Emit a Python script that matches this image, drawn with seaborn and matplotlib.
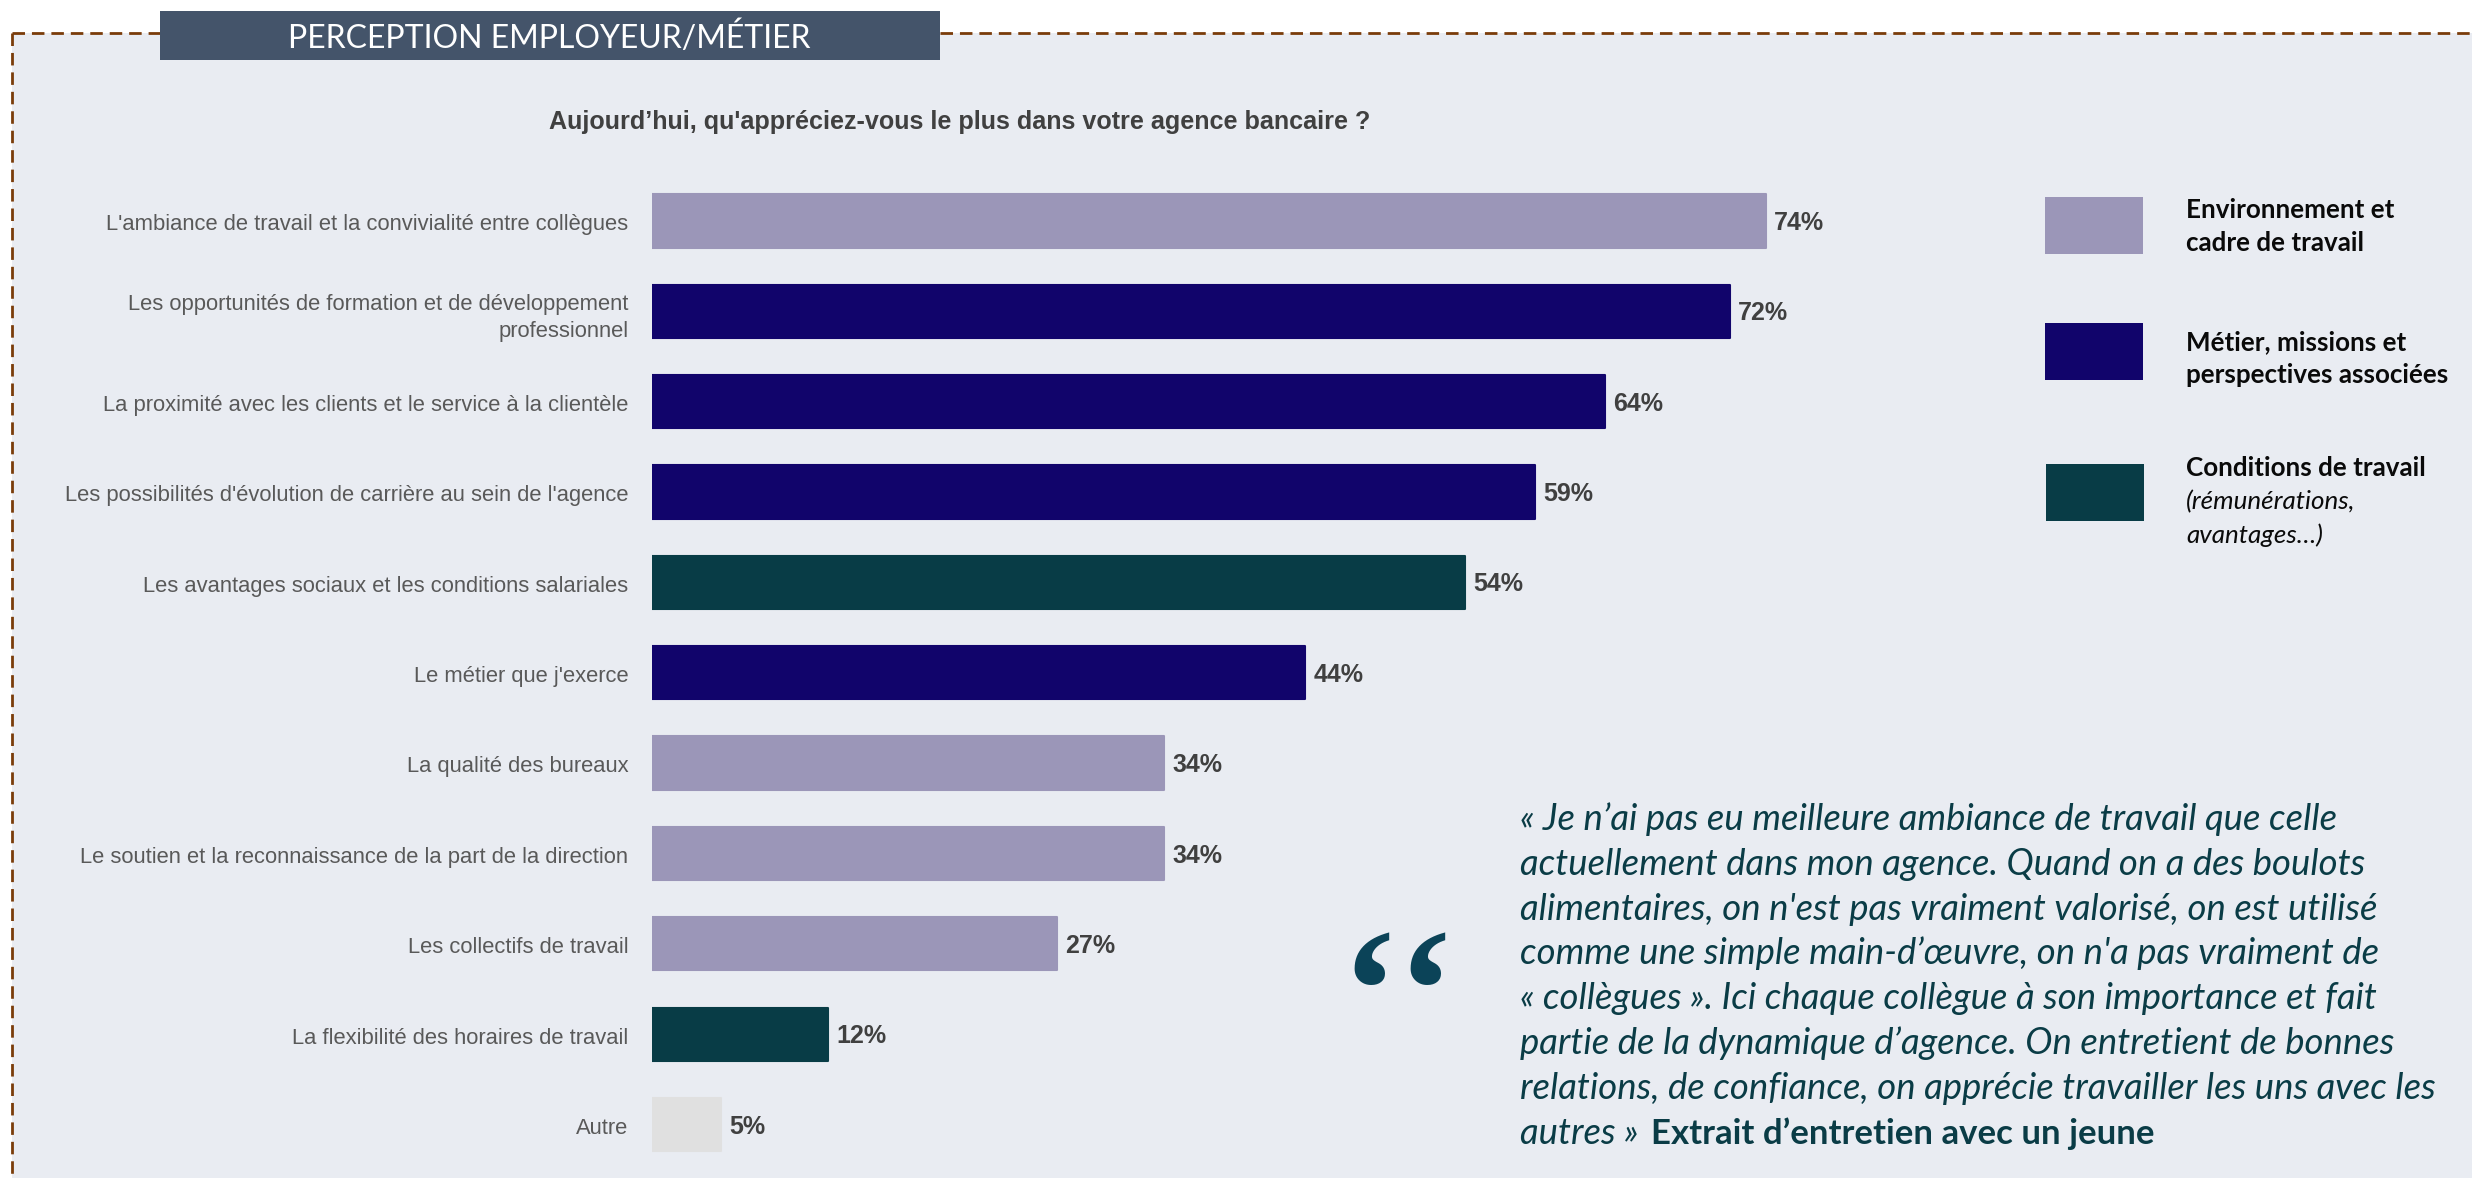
import pandas as pd
import seaborn as sns
import matplotlib.pyplot as plt
from matplotlib.patches import Rectangle
from matplotlib.lines import Line2D
from matplotlib.transforms import ScaledTranslation

W, H = 2472, 1178

categories = [
    "L'ambiance de travail et la convivialité entre collègues",
    "Les opportunités de formation et de développement\nprofessionnel",
    "La proximité avec les clients et le service à la clientèle",
    "Les possibilités d'évolution de carrière au sein de l'agence",
    "Les avantages sociaux et les conditions salariales",
    "Le métier que j'exerce",
    "La qualité des bureaux",
    "Le soutien et la reconnaissance de la part de la direction",
    "Les collectifs de travail",
    "La flexibilité des horaires de travail",
    "Autre",
]
values = [74.0, 71.6, 63.3, 58.7, 54.0, 43.4, 34.0, 34.0, 26.9, 11.7, 4.6]
value_labels = ["74%", "72%", "64%", "59%", "54%", "44%", "34%", "34%", "27%", "12%", "5%"]
groups = ["env", "metier", "metier", "metier", "cond", "metier", "env", "env", "env", "cond", "autre"]

palette = {"env": "#9b96b8", "metier": "#11046b", "cond": "#083c46", "autre": "#e0e0e0"}

quote_lines = [
    "« Je n’ai pas eu meilleure ambiance de travail que celle",
    "actuellement dans mon agence. Quand on a des boulots",
    "alimentaires, on n'est pas vraiment valorisé, on est utilisé",
    "comme une simple main-d’œuvre, on n'a pas vraiment de",
    "« collègues ». Ici chaque collègue à son importance et fait",
    "partie de la dynamique d’agence. On entretient de bonnes",
    "relations, de confiance, on apprécie travailler les uns avec les",
    "autres » ",
]
quote_source = "Extrait d’entretien avec un jeune"

df = pd.DataFrame({"item": categories, "pct": values, "group": groups})


def fx(px):
    return px / W


def fy(px):
    return 1 - px / H


def fig_rect(x0, y0, x1, y1, color, zorder=0):
    fig.add_artist(Rectangle((fx(x0), fy(y1)), (x1 - x0) / W, (y1 - y0) / H,
                             transform=fig.transFigure, facecolor=color,
                             edgecolor="none", zorder=zorder))


def fig_text(x, y, s, **kwargs):
    return fig.text(fx(x), fy(y), s, va="baseline", **kwargs)


sns.set_theme(style="white")
plt.rcParams["font.family"] = ["Liberation Sans", "DejaVu Sans"]

fig = plt.figure(figsize=(W / 100, H / 100), dpi=100, facecolor="white")

# panneau de fond + bordure pointillee
fig_rect(12, 33, W, H, "#e9ecf2")
dash = dict(color="#7a3c0a", lw=2, dashes=(4.5, 2.5), zorder=1)
fig.add_artist(Line2D([fx(12), fx(160)], [fy(33), fy(33)], **dash))
fig.add_artist(Line2D([fx(940), fx(W)], [fy(33), fy(33)], **dash))
fig.add_artist(Line2D([fx(12), fx(12)], [fy(33), fy(H)], **dash))

# bandeau
fig_rect(160, 11, 940, 60, "#44546a", zorder=2)
fig_text(549, 48, "PERCEPTION EMPLOYEUR/MÉTIER", family="Lato", color="white",
         fontsize=23, ha="center", zorder=3)

# barres : 15.05 px par point de pourcentage, 90.35 px par categorie
ax = fig.add_axes([fx(652), fy(1169.7), 80 * 15.05 / W, (1169.7 - 175.8) / H])
ax.patch.set_alpha(0)
sns.barplot(data=df, y="item", x="pct", hue="group", palette=palette, saturation=1,
            dodge=False, width=0.59, legend=False, ax=ax)
for patch in ax.patches:
    patch.set_edgecolor(patch.get_facecolor())
    patch.set_linewidth(1.5)
    patch.set_joinstyle("round")

ax.set_xlim(0, 80)
ax.set_ylim(10.5, -0.5)
ax.set_xlabel("")
ax.set_ylabel("")
ax.set_xticks([])
ax.tick_params(axis="y", length=0, pad=17, labelsize=15.8, labelcolor="#595959")
shift = ScaledTranslation(0, -1 / 72, fig.dpi_scale_trans)
for lab in ax.get_yticklabels():
    lab.set_multialignment("right")
    lab.set_linespacing(1.35)
    lab.set_transform(lab.get_transform() + shift)
sns.despine(ax=ax, left=True, bottom=True)

for i, (v, lab) in enumerate(zip(values, value_labels)):
    ax.annotate(lab, xy=(v, i), xytext=(6, -1.5), textcoords="offset points",
                va="center", ha="left", fontsize=18, fontweight="bold",
                color="#404040")

fig_text(960, 129, "Aujourd’hui, qu'appréciez-vous le plus dans votre agence bancaire ?",
         fontsize=18.1, fontweight="bold", color="#404040", ha="center")

# legende
for x0, y0, col in [(2045, 197, palette["env"]), (2045, 323, palette["metier"]),
                    (2046, 464, palette["cond"])]:
    fig_rect(x0, y0, x0 + 98, y0 + 57, col, zorder=2)

leg = dict(family="Lato", fontsize=18.7, color="#0a0a0a", zorder=3)
fig_text(2186, 218, "Environnement et", fontweight="bold", **leg)
fig_text(2186, 251, "cadre de travail", fontweight="bold", **leg)
fig_text(2186, 350, "Métier, missions et", fontweight="bold", **leg)
fig_text(2186, 383, "perspectives associées", fontweight="bold", **leg)
fig_text(2186, 476, "Conditions de travail", fontweight="bold", **leg)
fig_text(2186, 509, "(rémunérations,", style="italic", **leg)
fig_text(2186, 543, "avantages…)", style="italic", **leg)

# verbatim
qt = dict(family="Lato", color="#0a3c46", zorder=3)
for i, line in enumerate(quote_lines):
    last = fig_text(1520, 830 + i * 44.8, line, style="italic", fontsize=26.3, **qt)
fig.canvas.draw()
end = last.get_window_extent().x1 + 4
fig_text(end, 830 + 7 * 44.8, quote_source, fontweight="bold", fontsize=25, **qt)

# guillemets : deux glyphes poses separement
for xq in [1369, 1425]:
    fig_text(xq, 1048, "‘", family="Liberation Serif", fontweight="bold", fontsize=125,
             color="#0b4358", ha="center", zorder=3)

fig.savefig("out.png", dpi=100, facecolor=fig.get_facecolor())
